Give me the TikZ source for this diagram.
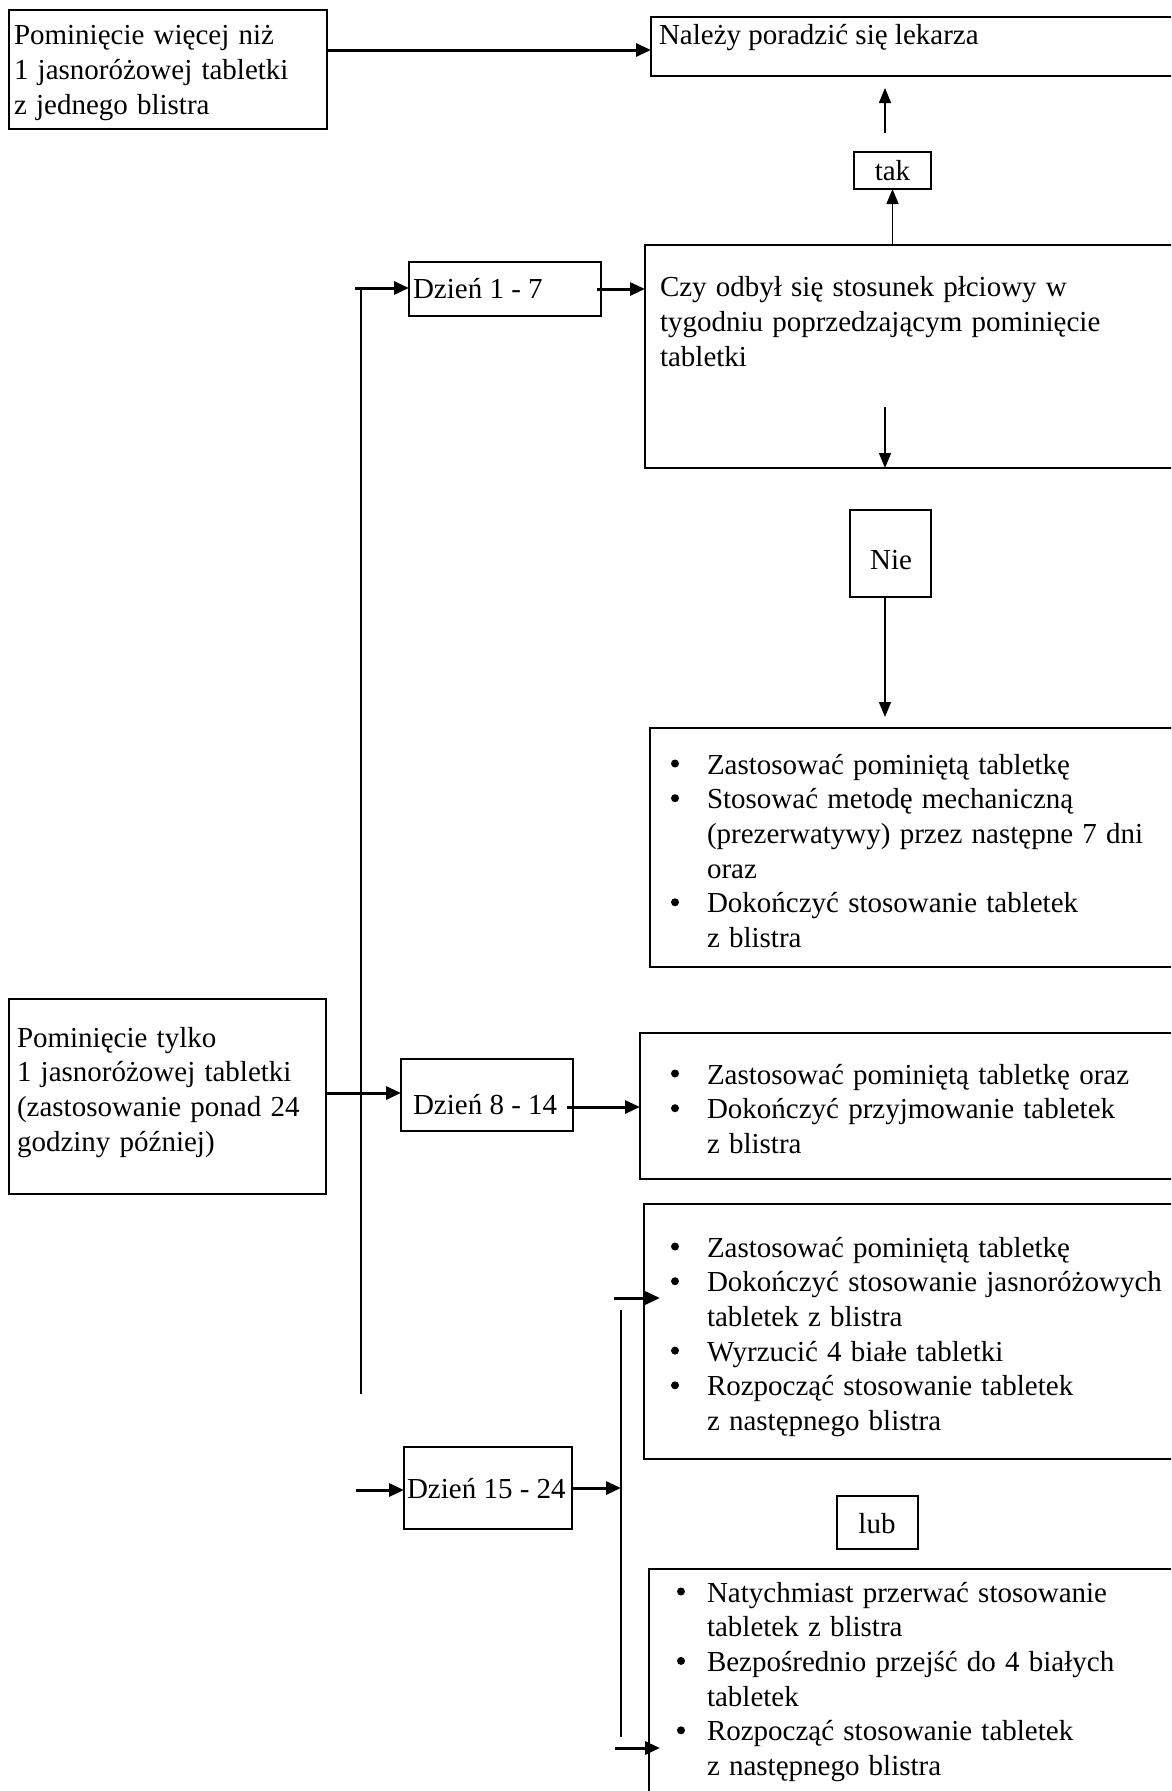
\documentclass[tikz,border=0pt]{standalone}
\usepackage{fontspec}
\setmainfont{Liberation Serif}
\usetikzlibrary{arrows.meta}
\newcommand{\myind}{\hspace*{47pt}}
\newcommand{\txtfont}{\fontsize{29}{34.7}\selectfont\spaceskip 9.2pt\relax}
\newcommand{\lblfont}{\fontsize{29}{34.7}\selectfont}
\begin{document}
\begin{tikzpicture}[x=1pt,y=-1pt,
  box/.style={draw=black, line width=1.6pt, rectangle, inner sep=0pt, outer sep=0pt, anchor=north west},
  txt/.style={inner sep=0pt, outer sep=0pt, font=\txtfont, align=left, anchor=north west},
  lbl/.style={inner sep=0pt, outer sep=0pt, font=\lblfont, anchor=base west},
  clbl/.style={inner sep=0pt, outer sep=0pt, font=\lblfont, anchor=base},
  thickarrow/.style={line width=3pt, -{Triangle[length=15pt,width=13pt]}},
  thinarrow/.style={line width=1.5pt, -{Triangle[length=15pt,width=12pt]}},
  trunk/.style={line width=1.8pt},
  dot/.style={fill=black},
]
\clip (0,0) rectangle (1171,1791);
\useasboundingbox (0,0) rectangle (1171,1791);
\fill[white] (0,0) rectangle (1171,1791);

% boxes
\node[box, minimum width=318pt, minimum height=119pt] (A) at (9,10) {};
\node[box, minimum width=529pt, minimum height=59pt] (B) at (651,17) {};
\node[box, minimum width=77pt, minimum height=37pt] (tak) at (854,152) {};
\node[box, minimum width=535pt, minimum height=223pt] (C) at (645,245) {};
\node[box, minimum width=192pt, minimum height=54pt] (D17) at (409,262) {};
\node[box, minimum width=81pt, minimum height=87pt] (Nie) at (850,510) {};
\node[box, minimum width=530pt, minimum height=239pt] (D) at (650,728) {};
\node[box, minimum width=317pt, minimum height=195pt] (E) at (9,999) {};
\node[box, minimum width=172pt, minimum height=72pt] (D814) at (401,1059) {};
\node[box, minimum width=540pt, minimum height=146pt] (F) at (640,1033) {};
\node[box, minimum width=536pt, minimum height=255pt] (G) at (644,1204) {};
\node[box, minimum width=168pt, minimum height=82pt] (D1524) at (404,1447) {};
\node[box, minimum width=81pt, minimum height=53pt] (lub) at (837,1496) {};
\node[box, minimum width=531pt, minimum height=240pt] (H) at (649,1569) {};

% texts
\node[txt] (tA) at (14,20.7) {\strut Pominięcie więcej niż\\1 jasnoróżowej tabletki\\z jednego blistra};
\node[lbl] (tB) at (659,44) {Należy poradzić się lekarza};
\node[clbl] (ttak) at (892.5,180) {tak};
\node[txt] (tC) at (660,272.7) {\strut Czy odbył się stosunek płciowy w\\tygodniu poprzedzającym pominięcie\\tabletki};
\node[lbl] (tD17) at (413,298) {Dzień 1 - 7};
\node[clbl] (tNie) at (891,569) {Nie};
\node[txt] (tD) at (660,749.7) {\strut\myind Zastosować pominiętą tabletkę\\\myind Stosować metodę mechaniczną\\\myind(prezerwatywy) przez następne 7 dni\\\myind oraz\\\myind Dokończyć stosowanie tabletek\\\myind z blistra};
\node[txt] (tE) at (17,1022.7) {\strut Pominięcie tylko\\1 jasnoróżowej tabletki\\(zastosowanie ponad 24\\godziny później)};
\node[lbl] (tD814) at (413,1114) {Dzień 8 - 14};
\node[txt] (tF) at (660,1059.7) {\strut\myind Zastosować pominiętą tabletkę oraz\\\myind Dokończyć przyjmowanie tabletek\\\myind z blistra};
\node[txt] (tG) at (660,1232.7) {\strut\myind Zastosować pominiętą tabletkę\\\myind Dokończyć stosowanie jasnoróżowych\\\myind tabletek z blistra\\\myind Wyrzucić 4 białe tabletki\\\myind Rozpocząć stosowanie tabletek\\\myind z następnego blistra};
\node[lbl] (tD1524) at (407,1498) {Dzień 15 - 24};
\node[clbl] (tlub) at (877,1533) {lub};
\node[txt] (tH) at (660,1577.7) {\strut\myind Natychmiast przerwać stosowanie\\\myind tabletek z blistra\\\myind Bezpośrednio przejść do 4 białych\\\myind tabletek\\\myind Rozpocząć stosowanie tabletek\\\myind z następnego blistra};

% bullets
\foreach \by in {774,808.7,912.8,1084,1118.7,1257,1291.7,1361.1,1395.8}
  \fill[dot] (675,\by-10.5) circle (4pt);
\foreach \by in {1602,1671.4,1740.8}
  \fill[dot] (681,\by-10.5) circle (4pt);

% helper coordinates
\coordinate (yAB) at (0,50);
\coordinate (k1) at (885,133);
\coordinate (k2) at (885,88);
\coordinate (c1) at (885,407);
\coordinate (n1) at (885,597);
\coordinate (n2) at (885,717);
\coordinate (t1) at (361,288);
\coordinate (t2) at (361,1394);
\coordinate (s1) at (355,288);
\coordinate (y814) at (0,1093);
\coordinate (o814) at (567,1107);
\coordinate (s3) at (356,1490);
\coordinate (y15) at (0,1488);
\coordinate (u1) at (621,1310);
\coordinate (u2) at (621,1737);
\coordinate (g0) at (614,1298);
\coordinate (gE) at (660,1298);
\coordinate (h0) at (615,1748);
\coordinate (hE) at (660,1748);

% connectors
\draw[thickarrow] (A.east |- yAB) -- (B.west |- yAB);
\draw[thinarrow] (tak.south |- C.north) -- (tak.south);
\draw[thinarrow] (k1) -- (k2);
\draw[thinarrow] (c1) -- (c1 |- C.south);
\draw[thinarrow] (n1) -- (n2);
\draw[trunk] (t1) -- (t2);
\draw[thickarrow] (s1) -- (s1 -| D17.west);
\draw[thickarrow] ([xshift=-4pt]D17.east) -- (D17.east -| C.west);
\draw[thickarrow] (E.east |- y814) -- (D814.west |- y814);
\draw[thickarrow] (o814) -- (o814 -| F.west);
\draw[thickarrow] (s3) -- (s3 -| D1524.west);
\draw[trunk] (u1) -- (u2);
\draw[thickarrow] (D1524.east |- y15) -- (u1 |- y15);
\draw[thickarrow] (g0) -- (gE);
\draw[thickarrow] (h0) -- (hE);
\end{tikzpicture}
\end{document}
